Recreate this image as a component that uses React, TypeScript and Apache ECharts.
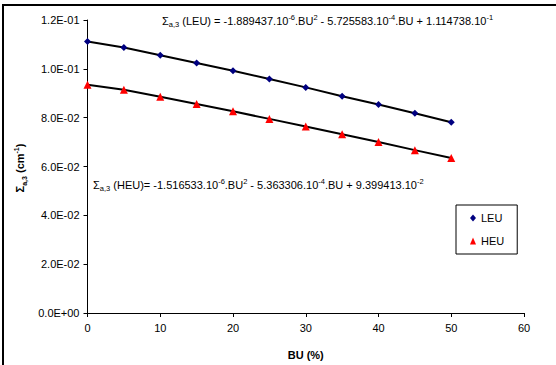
import React, { useEffect, useRef } from "react";
import * as echarts from "echarts";

const buPercent = [0, 5, 10, 15, 20, 25, 30, 35, 40, 45, 50];
const leuValues = [0.1112, 0.1087, 0.1056, 0.1024, 0.0992, 0.0958, 0.0924, 0.0888, 0.0854, 0.0818, 0.0781];
const heuValues = [0.0935, 0.0914, 0.0886, 0.0856, 0.0826, 0.0795, 0.0764, 0.0732, 0.0700, 0.0667, 0.0635];
const seriesNames = ["LEU", "HEU"];
const leuEquation =
  "{b|Σ}{sub|a,3}{b| (LEU) = -1.889437.10}{sup|-6}{b|.BU}{sup|2}{b| - 5.725583.10}{sup|-4}{b|.BU + 1.114738.10}{sup|-1}";
const heuEquation =
  "{b|Σ}{sub|a,3}{b| (HEU)= -1.516533.10}{sup|-6}{b|.BU}{sup|2}{b| - 5.363306.10}{sup|-4}{b|.BU + 9.399413.10}{sup|-2}";

const FONT = "Liberation Sans, Arial, sans-serif";

function fmtExp(v: number): string {
  if (v === 0) return "0.0E+00";
  const s = v.toExponential(1).toUpperCase();
  const m = s.match(/^(.*)E([+-])(\d+)$/);
  if (!m) return s;
  return m[1] + "E" + m[2] + m[3].padStart(2, "0");
}

const richEq = {
  b: { fontSize: 11, fontFamily: FONT, color: "#000", lineHeight: 15, verticalAlign: "middle" },
  sup: { fontSize: 7.5, fontFamily: FONT, color: "#000", lineHeight: 15, verticalAlign: "top" },
  sub: { fontSize: 7.5, fontFamily: FONT, color: "#000", lineHeight: 15, verticalAlign: "bottom" },
};

export default function App() {
  const ref = useRef<HTMLDivElement>(null);
  useEffect(() => {
    if (!ref.current) return;
    const chart = echarts.init(ref.current, null, { renderer: "svg" });
    const leuData = buPercent.map((x, i) => [x, leuValues[i]]);
    const heuData = buPercent.map((x, i) => [x, heuValues[i]]);
    chart.setOption({
      animation: false,
      backgroundColor: "#fff",
      grid: { left: 87.5, right: 32, top: 20, bottom: 50 },
      xAxis: {
        type: "value",
        min: 0,
        max: 60,
        interval: 10,
        name: "BU (%)",
        nameLocation: "middle",
        nameGap: 36,
        nameTextStyle: { fontFamily: FONT, fontSize: 11, fontWeight: "bold", color: "#000" },
        axisLine: { lineStyle: { color: "#000", width: 1 } },
        axisTick: { show: true, length: 4, lineStyle: { color: "#000" } },
        axisLabel: { fontFamily: FONT, fontSize: 11, color: "#000", margin: 9 },
        splitLine: { show: false },
      },
      yAxis: {
        type: "value",
        min: 0,
        max: 0.12,
        interval: 0.02,
        axisLine: { show: true, lineStyle: { color: "#000", width: 1 } },
        axisTick: { show: true, length: 4, lineStyle: { color: "#000" } },
        axisLabel: { fontFamily: FONT, fontSize: 11, color: "#000", margin: 8, formatter: (v: number) => fmtExp(v) },
        splitLine: { show: false },
      },
      legend: {
        orient: "vertical",
        left: 456,
        top: 205,
        padding: [6, 13, 6, 14],
        itemGap: 9,
        itemWidth: 6,
        itemHeight: 7,
        borderColor: "#000",
        borderWidth: 1,
        textStyle: { fontFamily: FONT, fontSize: 11, color: "#000", lineHeight: 14 },
        data: [
          { name: seriesNames[0], icon: "diamond" },
          { name: seriesNames[1], icon: "triangle" },
        ],
      },
      graphic: [
        {
          type: "rect",
          shape: { x: 3, y: 5, width: 700, height: 500 },
          style: { fill: "none", stroke: "#000", lineWidth: 2 },
          silent: true,
        },
        {
          type: "text",
          left: 162,
          top: 13,
          style: { text: leuEquation, rich: richEq },
          silent: true,
        },
        {
          type: "text",
          left: 93,
          top: 177,
          style: { text: heuEquation, rich: richEq },
          silent: true,
        },
        {
          type: "text",
          x: 20,
          y: 168,
          rotation: Math.PI / 2,
          style: {
            text: "{b|Σ}{sub|a,3}{b| (cm}{sup|-1}{b|)}",
            align: "center",
            verticalAlign: "middle",
            rich: {
              b: { fontSize: 11, fontWeight: "bold", fontFamily: FONT, color: "#000", lineHeight: 15, verticalAlign: "middle" },
              sup: { fontSize: 7, fontWeight: "bold", fontFamily: FONT, color: "#000", lineHeight: 15, verticalAlign: "top" },
              sub: { fontSize: 7, fontWeight: "bold", fontFamily: FONT, color: "#000", lineHeight: 15, verticalAlign: "bottom" },
            },
          },
          silent: true,
        },
      ],
      series: [
        {
          name: seriesNames[0],
          type: "line",
          data: leuData,
          symbol: "diamond",
          symbolSize: 7,
          itemStyle: { color: "#000080" },
          lineStyle: { color: "#000", width: 2 },
          z: 3,
        },
        {
          name: seriesNames[1],
          type: "line",
          data: heuData,
          symbol: "triangle",
          symbolSize: 8,
          itemStyle: { color: "#ff0000" },
          lineStyle: { color: "#000", width: 2 },
          z: 3,
        },
      ],
    });
    return () => chart.dispose();
  }, []);
  return (
    <div style={{ position: "fixed", left: 0, top: 0, width: 556, height: 365, background: "#fff" }}>
      <div ref={ref} style={{ width: 556, height: 365 }} />
    </div>
  );
}
